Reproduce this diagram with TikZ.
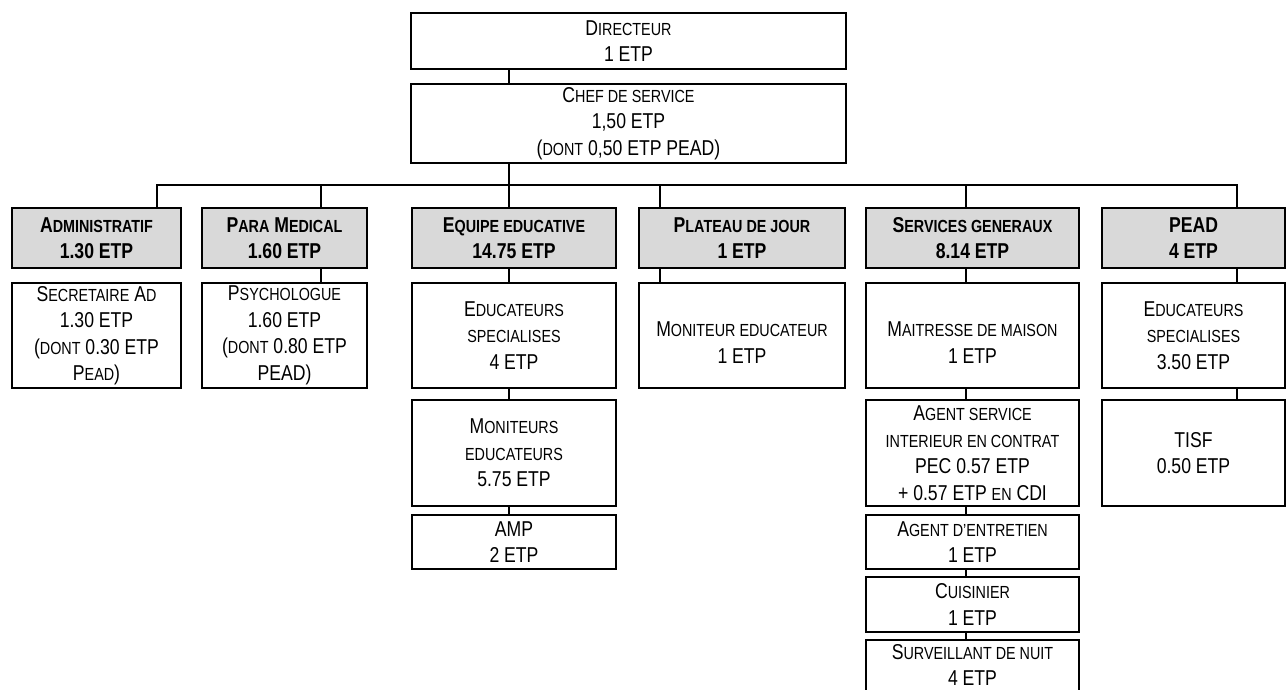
\documentclass[tikz,border=0pt]{standalone}
\usepackage{fontspec}
\setmainfont[FakeStretch=0.82]{Liberation Sans}
% text sizes: full capitals and the smaller capitals used for lower-case letters
\newcommand\bodyfont{\fontsize{21.5}{26.5}\selectfont}
\newcommand\smc[1]{{\fontsize{17.5}{26.5}\selectfont #1}}
% strut that lowers a two-line label inside a tall box
\newcommand\lowerstrut{\rule{0pt}{29pt}}
% strut that lifts the label of the last, cut-off box
\newcommand\liftstrut{\rule[-4pt]{0pt}{4pt}}
\begin{document}
\begin{tikzpicture}[x=1pt,y=-1pt,
  box/.style={draw, line width=2pt, inner sep=0pt, align=center, font=\bodyfont},
  head/.style={box, fill=gray!30, font=\bodyfont\bfseries, minimum height=60pt},
  conn/.style={draw, line width=1.6pt}]
\clip (0,0) rectangle (1286,689);

% top of the hierarchy
\node[box, minimum width=435pt, minimum height=56pt] (dir) at (628.5,41)
  {D\smc{IRECTEUR}\\1 ETP};
\node[box, minimum width=435pt, minimum height=79pt] (chef) at (628.5,123.5)
  {C\smc{HEF DE SERVICE}\\1,50 ETP\\(\smc{DONT} 0,50 ETP PEAD)};
\coordinate (bus) at (509,185);

% departments
\node[head, minimum width=169pt] (adm) at (96.5,238) {A\smc{DMINISTRATIF}\\1.30 ETP};
\node[head, minimum width=165pt] (para) at (284.5,238) {P\smc{ARA} M\smc{EDICAL}\\1.60 ETP};
\node[head, minimum width=204pt] (equ) at (514,238) {E\smc{QUIPE EDUCATIVE}\\14.75 ETP};
\node[head, minimum width=206pt] (plat) at (742,238) {P\smc{LATEAU DE JOUR}\\1 ETP};
\node[head, minimum width=213pt] (serv) at (972.5,238) {S\smc{ERVICES GENERAUX}\\8.14 ETP};
\node[head, minimum width=183pt] (pead) at (1193.5,238) {PEAD\\4 ETP};

% staff of each department
\node[box, minimum width=169pt, minimum height=105pt] (secr) at (96.5,335.5)
  {S\smc{ECRETAIRE} A\smc{D}\\1.30 ETP\\(\smc{DONT} 0.30 ETP\\P\smc{EAD})};
\node[box, minimum width=165pt, minimum height=105pt] (psy) at (284.5,335.5)
  {P\smc{SYCHOLOGUE}\\1.60 ETP\\(\smc{DONT} 0.80 ETP\\PEAD)};

\node[box, minimum width=204pt, minimum height=105pt] (edu) at (514,335.5)
  {E\smc{DUCATEURS}\\\smc{SPECIALISES}\\4 ETP};
\node[box, minimum width=204pt, minimum height=106pt] (mon) at (514,453)
  {M\smc{ONITEURS}\\\smc{EDUCATEURS}\\5.75 ETP};
\node[box, minimum width=204pt, minimum height=54pt] (amp) at (514,542)
  {AMP\\2 ETP};

\node[box, minimum width=206pt, minimum height=105pt] (moned) at (742,335.5)
  {\lowerstrut M\smc{ONITEUR EDUCATEUR}\\1 ETP};

\node[box, minimum width=213pt, minimum height=105pt] (mait) at (972.5,335.5)
  {\lowerstrut M\smc{AITRESSE DE MAISON}\\1 ETP};
\node[box, minimum width=213pt, minimum height=106pt] (asi) at (972.5,453)
  {A\smc{GENT SERVICE}\\\smc{INTERIEUR EN CONTRAT}\\PEC 0.57 ETP\\+ 0.57 ETP \smc{EN} CDI};
\node[box, minimum width=213pt, minimum height=54pt] (entr) at (972.5,542)
  {A\smc{GENT D’ENTRETIEN}\\1 ETP};
\node[box, minimum width=213pt, minimum height=55pt] (cuis) at (972.5,604.5)
  {C\smc{UISINIER}\\1 ETP};
\node[box, minimum width=213pt, minimum height=54pt] (surv) at (972.5,667)
  {S\smc{URVEILLANT DE NUIT}\\4 ETP\liftstrut};

\node[box, minimum width=183pt, minimum height=105pt] (pedu) at (1193.5,335.5)
  {E\smc{DUCATEURS}\\\smc{SPECIALISES}\\3.50 ETP};
\node[box, minimum width=183pt, minimum height=106pt] (tisf) at (1193.5,453)
  {TISF\\0.50 ETP};

% connectors
\draw[conn] ([xshift=-119.5]dir.south) -- ([xshift=-119.5]chef.north);
\draw[conn] ([xshift=-119.5]chef.south) -- (bus);
\draw[conn] ([xshift=60.5]adm.north) |- (bus);
\draw[conn] ([xshift=36.5]para.north) |- (bus);
\draw[conn] ([xshift=-5]equ.north) |- (bus);
\draw[conn] ([xshift=-82]plat.north) |- (bus);
\draw[conn] ([xshift=-6.5]serv.north) |- (bus);
\draw[conn] ([xshift=43.5]pead.north) |- (bus);

\draw[conn] ([xshift=36.5]para.south) -- ([xshift=36.5]psy.north);
\draw[conn] ([xshift=-5]equ.south) -- ([xshift=-5]edu.north);
\draw[conn] ([xshift=-5]edu.south) -- ([xshift=-5]mon.north);
\draw[conn] ([xshift=-5]mon.south) -- ([xshift=-5]amp.north);
\draw[conn] ([xshift=-82]plat.south) -- ([xshift=-82]moned.north);
\draw[conn] ([xshift=-6.5]serv.south) -- ([xshift=-6.5]mait.north);
\draw[conn] ([xshift=-6.5]mait.south) -- ([xshift=-6.5]asi.north);
\draw[conn] ([xshift=-6.5]asi.south) -- ([xshift=-6.5]entr.north);
\draw[conn] ([xshift=-6.5]entr.south) -- ([xshift=-6.5]cuis.north);
\draw[conn] ([xshift=-6.5]cuis.south) -- ([xshift=-6.5]surv.north);
\draw[conn] ([xshift=43.5]pead.south) -- ([xshift=43.5]pedu.north);
\draw[conn] ([xshift=43.5]pedu.south) -- ([xshift=43.5]tisf.north);
\end{tikzpicture}
\end{document}
